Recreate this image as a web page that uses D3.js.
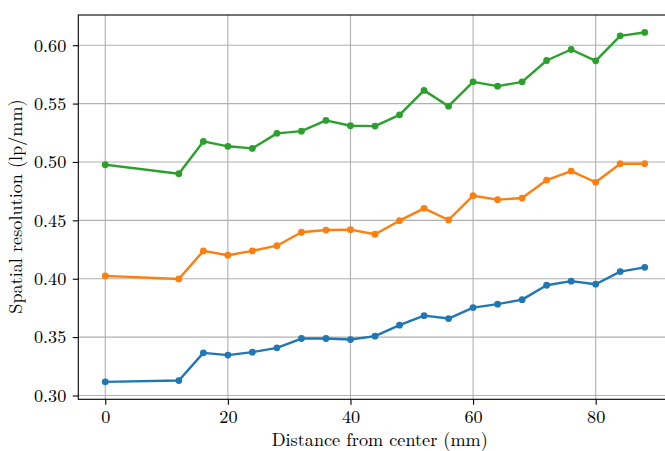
<!DOCTYPE html>
<html>
<head>
<meta charset="utf-8">
<script src="https://cdn.jsdelivr.net/npm/d3@7"></script>
<style>
  html, body { margin: 0; padding: 0; background: #fff; }
  svg { display: block; }
</style>
</head>
<body>
<svg id="chart" width="665" height="451"></svg>
<script>
// ---- data ----
const distances = [0, 12, 16, 20, 24, 28, 32, 36, 40, 44, 48, 52, 56, 60, 64, 68, 72, 76, 80, 84, 88];
const seriesBlue = [0.3117, 0.3128, 0.3365, 0.3346, 0.3371, 0.3408, 0.3488, 0.3488, 0.3479, 0.3508, 0.3602,
                    0.3684, 0.3659, 0.3753, 0.3782, 0.3821, 0.3944, 0.3979, 0.3953, 0.4061, 0.4098];
const seriesOrange = [0.4024, 0.3998, 0.4238, 0.4201, 0.4238, 0.4283, 0.4398, 0.4417, 0.4420, 0.4381, 0.4497,
                      0.4603, 0.4503, 0.4711, 0.4677, 0.4691, 0.4845, 0.4922, 0.4826, 0.4985, 0.4985];
const seriesGreen = [0.4976, 0.4899, 0.5176, 0.5134, 0.5116, 0.5245, 0.5264, 0.5356, 0.5310, 0.5307, 0.5404,
                     0.5613, 0.5478, 0.5686, 0.5649, 0.5686, 0.5869, 0.5963, 0.5866, 0.6080, 0.6109];
const seriesColors = ["#1f77b4", "#ff7f0e", "#2ca02c"];
const xTicks = [0, 20, 40, 60, 80];
const yTicks = [0.30, 0.35, 0.40, 0.45, 0.50, 0.55, 0.60];
const xLabel = "Distance from center (mm)";
const yLabel = "Spatial resolution (lp/mm)";

// ---- layout ----
const FONT = "'Latin Modern Roman', 'Liberation Serif', serif";
const FS = 18.2;
const svg = d3.select("#chart");
const plot = { left: 78.3, right: 671.7, top: 15, bottom: 399.3 };
const series = [seriesBlue, seriesOrange, seriesGreen];

const xMin = d3.min(distances), xMax = d3.max(distances);
const xPad = (xMax - xMin) * 0.05;
const allY = series.flat();
const yMin = d3.min(allY), yMax = d3.max(allY);
const yPad = (yMax - yMin) * 0.05;

const x = d3.scaleLinear().domain([xMin - xPad, xMax + xPad]).range([plot.left, plot.right]);
const y = d3.scaleLinear().domain([yMin - yPad, yMax + yPad]).range([plot.bottom, plot.top]);

svg.append("defs").append("clipPath").attr("id", "clip")
  .append("rect")
  .attr("x", plot.left).attr("y", plot.top)
  .attr("width", plot.right - plot.left).attr("height", plot.bottom - plot.top);

// grid
const grid = svg.append("g");
grid.selectAll("line.gx").data(xTicks).join("line")
  .attr("x1", d => x(d)).attr("x2", d => x(d))
  .attr("y1", plot.top).attr("y2", plot.bottom)
  .attr("stroke", "#b0b0b0").attr("stroke-width", 1.1);
grid.selectAll("line.gy").data(yTicks).join("line")
  .attr("x1", plot.left).attr("x2", plot.right)
  .attr("y1", d => y(d)).attr("y2", d => y(d))
  .attr("stroke", "#b0b0b0").attr("stroke-width", 1.1);

// lines & markers
const data = series.map(s => s.map((v, i) => ({ x: distances[i], y: v })));
const line = d3.line().x(d => x(d.x)).y(d => y(d.y));
const g = svg.append("g").attr("clip-path", "url(#clip)");
data.forEach((s, k) => {
  g.append("path").datum(s)
    .attr("d", line)
    .attr("fill", "none")
    .attr("stroke", seriesColors[k])
    .attr("stroke-width", 2.4)
    .attr("stroke-linejoin", "round")
    .attr("stroke-linecap", "square");
  g.selectAll(null).data(s).join("circle")
    .attr("cx", d => x(d.x)).attr("cy", d => y(d.y))
    .attr("r", 3.4)
    .attr("fill", seriesColors[k]);
});

// axes
const xAxis = d3.axisBottom(x).tickValues(xTicks).tickFormat(d3.format("d")).tickSize(5.5).tickPadding(5);
const yAxis = d3.axisLeft(y).tickValues(yTicks).tickFormat(d3.format(".2f")).tickSize(5.5).tickPadding(6.5);

const gx = svg.append("g").attr("transform", `translate(0,${plot.bottom})`).call(xAxis);
const gy = svg.append("g").attr("transform", `translate(${plot.left},0)`).call(yAxis);
[gx, gy].forEach(a => {
  a.select(".domain").remove();
  a.selectAll(".tick line").attr("stroke", "#000").attr("stroke-width", 1.1);
  a.selectAll(".tick text")
    .style("font-family", FONT)
    .style("font-size", FS + "px")
    .attr("fill", "#000");
});
gx.selectAll(".tick text").attr("dy", null).attr("y", 23.7);

// spines
svg.append("rect")
  .attr("x", plot.left).attr("y", plot.top)
  .attr("width", plot.right - plot.left).attr("height", plot.bottom - plot.top)
  .attr("fill", "none").attr("stroke", "#000").attr("stroke-width", 1.1);

// axis labels
svg.append("text")
  .attr("x", 379.7).attr("y", 445.8)
  .attr("text-anchor", "middle")
  .style("font-family", FONT)
  .style("font-size", FS + "px")
  .attr("fill", "#000")
  .text(xLabel);

svg.append("text")
  .attr("transform", `translate(22,206.5) rotate(-90)`)
  .attr("text-anchor", "middle")
  .style("font-family", FONT)
  .style("font-size", FS + "px")
  .attr("fill", "#000")
  .text(yLabel);
</script>
</body>
</html>
